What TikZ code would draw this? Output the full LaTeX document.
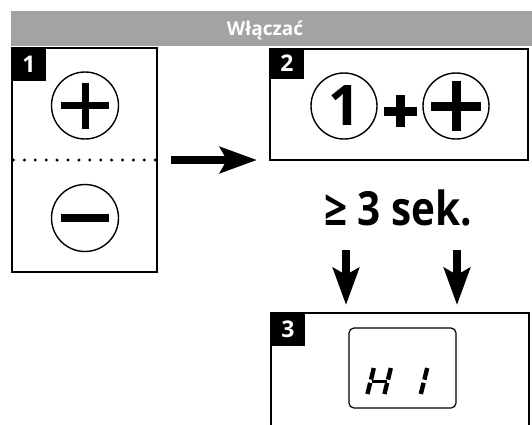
\documentclass[tikz,border=0pt]{standalone}
\usepackage{fontspec}
\usepackage{graphicx}
\setmainfont{Open Sans}
\usetikzlibrary{arrows.meta}
\definecolor{bargray}{RGB}{163,164,162}
\begin{document}
\begin{tikzpicture}[x=1pt,y=-1pt,
  panel/.style={draw=black, line width=2pt, fill=white, inner sep=0pt, outer sep=0pt, anchor=north west},
  tag/.style={fill=black, text=white, font=\fontsize{23}{26}\selectfont\bfseries, inner sep=0pt, outer sep=0pt,
              minimum width=34pt, minimum height=33pt, anchor=north west},
  btn/.style={circle, draw=black, line width=1.4pt, minimum size=67pt, inner sep=0pt},
  bar/.style={line width=#1, line cap=butt},
  bigarrow/.style={line width=8pt, -{Stealth[length=37pt, width=26pt, inset=7pt]}},
  seg/.style={line width=4.4pt, line cap=butt},
  dotrow/.style={line width=3.3pt, line cap=round, dash pattern=on 0pt off 10.9pt},
]
\useasboundingbox (0,0) rectangle (532,424);

% header bar
\node[fill=bargray, inner sep=0pt, outer sep=0pt, minimum width=521pt, minimum height=34.5pt,
      anchor=north west] (head) at (11,11) {};
\node[text=white, font=\fontsize{19}{22}\selectfont\bfseries, anchor=base, inner sep=0pt] (title)
      at (265,35) {Włączać};

% panel 1: plus / minus buttons
\node[panel, minimum width=145pt, minimum height=224pt] (p1) at (12,48) {};
\node[tag] (t1) at (p1.north west) {1};
\node[btn] (plus1) at (85,105.5) {};
\draw[bar=7pt] ([xshift=-24pt]plus1.center) -- ([xshift=24pt]plus1.center);
\draw[bar=7pt] ([yshift=23pt]plus1.center) -- ([yshift=-23pt]plus1.center);
\draw[dotrow] ([xshift=1.5pt]p1.west) -- (p1.east);
\node[btn] (minus1) at (85,218) {};
\draw[bar=8pt] ([xshift=-24pt]minus1.center) -- ([xshift=24pt]minus1.center);

% panel 2: key combination
\node[panel, minimum width=258pt, minimum height=111.5pt] (p2) at (270,48.5) {};
\node[tag, minimum height=30pt] (t2) at (p2.north west) {2};
\node[btn, minimum size=66pt, font=\fontsize{56}{60}\selectfont\bfseries] (one) at (344,106) {1};
\coordinate (mid) at (400.5,111);
\draw[bar=9pt] ([xshift=-16.5pt]mid) -- ([xshift=16.5pt]mid);
\draw[bar=9pt] ([yshift=16pt]mid) -- ([yshift=-16pt]mid);
\node[btn, minimum size=66pt] (plus2) at (456,106) {};
\draw[bar=9pt] ([xshift=-25pt]plus2.center) -- ([xshift=25pt]plus2.center);
\draw[bar=9pt] ([yshift=25pt]plus2.center) -- ([yshift=-25pt]plus2.center);

% arrow from panel 1 to panel 2
\draw[bigarrow, shorten <=14pt, shorten >=13pt] (p1.east) -- (p2.west |- p1.east);

% hold time
\node[font=\fontsize{47}{56}\selectfont\bfseries, anchor=base, inner sep=0pt] (sek)
      at (398,225) {\scalebox{0.86}[1]{≥ 3 sek.}};

% panel 3: display
\node[panel, minimum width=258pt, minimum height=120pt] (p3) at (271,313) {};
\node[tag] (t3) at (p3.north west) {3};
\coordinate (d1) at (346,250);
\coordinate (d2) at (457,250);
\draw[bigarrow, shorten >=8pt] (d1) -- (d1 |- p3.north);
\draw[bigarrow, shorten >=8pt] (d2) -- (d2 |- p3.north);

\node[draw=black, line width=1.2pt, rounded corners=5pt, inner sep=0pt, outer sep=0pt,
      minimum width=107pt, minimum height=80pt, anchor=north west] (lcd) at (349,328) {};
% seven-segment "H"
\draw[seg] (373.8,368.0) -- (371.0,379.6);
\draw[seg] (370.2,382.8) -- (367.4,394.0);
\draw[seg] (390.8,368.0) -- (388.0,379.6);
\draw[seg] (387.2,382.8) -- (384.4,394.0);
\draw[seg, line width=3pt] (371.5,381.2) -- (387.0,381.2);
% seven-segment "1"
\draw[seg] (427.2,368.0) -- (424.4,379.6);
\draw[seg] (423.6,382.8) -- (420.8,394.0);
\end{tikzpicture}
\end{document}
